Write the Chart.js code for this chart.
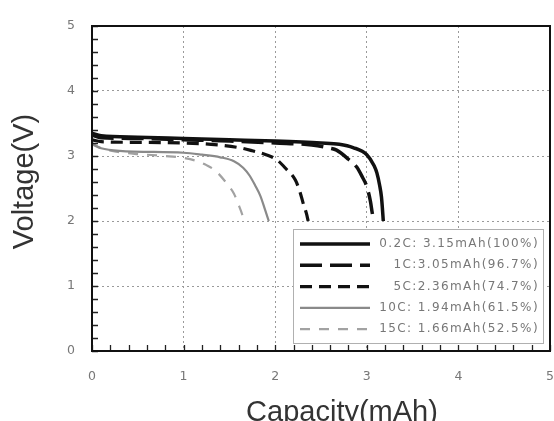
<!DOCTYPE html>
<html>
<head>
<meta charset="utf-8">
<script src="https://cdn.jsdelivr.net/npm/chart.js@4.4.1/dist/chart.umd.min.js"></script>
<style>
html,body{margin:0;padding:0;background:#fff;}
#wrap{width:554px;height:421px;position:relative;}
</style>
</head>
<body>
<div id="wrap"><canvas id="c" width="554" height="421"></canvas></div>
<script>
// ---- data ----
const seriesLabels = ['0.2C: 3.15mAh(100%)', '1C:3.05mAh(96.7%)', '5C:2.36mAh(74.7%)', '10C: 1.94mAh(61.5%)', '15C: 1.66mAh(52.5%)'];
const xTitle = 'Capacity(mAh)';
const yTitle = 'Voltage(V)';

const cap02C  = [0, 0.1, 0.5, 1.0, 1.5, 2.0, 2.5, 2.7, 2.85, 3.0, 3.08, 3.11, 3.14, 3.16, 3.17, 3.18];
const volt02C = [3.35, 3.31, 3.29, 3.27, 3.25, 3.23, 3.20, 3.18, 3.13, 3.02, 2.85, 2.74, 2.55, 2.37, 2.2, 2.0];

const cap1C  = [0, 0.1, 0.5, 1.0, 1.5, 2.0, 2.4, 2.6, 2.67, 2.8, 2.89, 2.95, 3.0, 3.04, 3.06, 3.08];
const volt1C = [3.32, 3.28, 3.27, 3.25, 3.23, 3.20, 3.17, 3.12, 3.09, 2.95, 2.83, 2.68, 2.53, 2.30, 2.12, 2.0];

const cap5C  = [0, 0.1, 0.5, 1.0, 1.3, 1.6, 1.75, 1.9, 2.02, 2.12, 2.22, 2.27, 2.31, 2.34, 2.36];
const volt5C = [3.25, 3.22, 3.21, 3.20, 3.18, 3.13, 3.08, 3.02, 2.94, 2.80, 2.63, 2.45, 2.25, 2.12, 2.0];

const cap10C  = [0, 0.1, 0.3, 1.0, 1.2, 1.4, 1.55, 1.65, 1.72, 1.78, 1.84, 1.89, 1.93];
const volt10C = [3.18, 3.12, 3.08, 3.05, 3.02, 2.98, 2.92, 2.82, 2.70, 2.55, 2.38, 2.17, 2.0];

const cap15C  = [0, 0.1, 0.3, 0.5, 0.8, 1.0, 1.15, 1.25, 1.35, 1.47, 1.55, 1.6, 1.64, 1.66];
const volt15C = [3.20, 3.12, 3.06, 3.03, 3.00, 2.97, 2.92, 2.86, 2.77, 2.58, 2.42, 2.25, 2.10, 2.0];

const xTicks = [0, 1, 2, 3, 4, 5];
const yTicks = [0, 1, 2, 3, 4, 5];

const pts = (xs, ys) => xs.map((x, i) => ({x: x, y: ys[i]}));

const styles = [
  {color: '#111', width: 3.5, dash: []},
  {color: '#111', width: 3.5, dash: [22, 8]},
  {color: '#111', width: 3.2, dash: [12, 7]},
  {color: '#8a8a8a', width: 2.2, dash: []},
  {color: '#a2a2a2', width: 2.2, dash: [10, 9]}
];
const seriesData = [pts(cap02C, volt02C), pts(cap1C, volt1C), pts(cap5C, volt5C), pts(cap10C, volt10C), pts(cap15C, volt15C)];

// draw order: grey first so black on top
const order = [3, 4, 2, 1, 0];
const datasets = seriesData.map((d, i) => ({
  label: seriesLabels[i],
  data: d,
  borderColor: styles[i].color,
  borderWidth: styles[i].width,
  borderDash: styles[i].dash,
  pointRadius: 0,
  fill: false,
  tension: 0.3,
  cubicInterpolationMode: 'monotone',
  order: order.indexOf(i)
}));

const frameAndTicks = {
  id: 'frameAndTicks',
  afterDatasetsDraw(chart) {
    const ctx = chart.ctx, a = chart.chartArea;
    const xs = chart.scales.x, ys = chart.scales.y;
    ctx.save();
    // inward minor ticks
    ctx.strokeStyle = '#222';
    ctx.lineWidth = 1.3;
    ctx.beginPath();
    for (let v = 0; v <= 25; v++) {
      const val = v / 5;
      const px = Math.round(xs.getPixelForValue(val)) + 0.5;
      ctx.moveTo(px, a.bottom); ctx.lineTo(px, a.bottom - 6);
      const py = Math.round(ys.getPixelForValue(val)) + 0.5;
      ctx.moveTo(a.left, py); ctx.lineTo(a.left + 6, py);
    }
    ctx.stroke();
    // legend box
    const bx = 293, by = 229, bw = 250, bh = 114;
    ctx.fillStyle = '#fff';
    ctx.fillRect(bx, by, bw, bh);
    ctx.strokeStyle = '#b0b0b0';
    ctx.lineWidth = 1;
    ctx.strokeRect(bx + 0.5, by + 0.5, bw, bh);
    ctx.font = '12px "DejaVu Sans"';
    ctx.textAlign = 'right';
    ctx.textBaseline = 'middle';
    chart.data.datasets.forEach((ds, i) => {
      const y = 244 + i * 21.3;
      ctx.beginPath();
      ctx.strokeStyle = ds.borderColor;
      ctx.lineWidth = ds.borderWidth;
      ctx.setLineDash(ds.borderDash);
      ctx.moveTo(300, y); ctx.lineTo(370, y);
      ctx.stroke();
      ctx.setLineDash([]);
      ctx.fillStyle = '#777';
      try { ctx.letterSpacing = '1.4px'; } catch (e) {}
      ctx.fillText(ds.label, 539, y);
      try { ctx.letterSpacing = '0px'; } catch (e) {}
    });
    // frame
    ctx.strokeStyle = '#111';
    ctx.lineWidth = 2;
    ctx.strokeRect(a.left, a.top, a.right - a.left, a.bottom - a.top);
    // axis titles
    ctx.fillStyle = '#333';
    ctx.font = '29px "Liberation Sans"';
    ctx.textAlign = 'center';
    ctx.textBaseline = 'middle';
    ctx.fillText(xTitle, (a.left + a.right) / 2 + 21, a.bottom + 62);
    ctx.translate(25, (a.top + a.bottom) / 2 - 7);
    ctx.rotate(-Math.PI / 2);
    ctx.fillText(yTitle, 0, 0);
    ctx.restore();
  }
};

new Chart(document.getElementById('c'), {
  type: 'line',
  data: {datasets: datasets},
  options: {
    responsive: false,
    animation: false,
    layout: {padding: {top: 26, right: 4, left: 0, bottom: 0}},
    plugins: {legend: {display: false}, tooltip: {enabled: false}},
    scales: {
      x: {
        type: 'linear', min: 0, max: 5,
        afterFit: s => { s.height = 70; s.paddingLeft = 0; s.paddingRight = 0; },
        afterBuildTicks: s => { s.ticks = xTicks.map(v => ({value: v})); },
        ticks: {color: '#777', font: {family: '"DejaVu Sans"', size: 12.5}, padding: 18, maxRotation: 0,
                callback: v => String(v)},
        grid: {color: '#9a9a9a', lineWidth: 1, drawTicks: false, tickLength: 0},
        border: {display: false, dash: [2, 3]},
        title: {display: false}
      },
      y: {
        type: 'linear', min: 0, max: 5,
        afterFit: s => { s.width = 92; s.paddingTop = 0; s.paddingBottom = 0; },
        afterBuildTicks: s => { s.ticks = yTicks.map(v => ({value: v})); },
        ticks: {color: '#777', font: {family: '"DejaVu Sans"', size: 12.5}, padding: 17,
                callback: v => String(v)},
        grid: {color: '#9a9a9a', lineWidth: 1, drawTicks: false, tickLength: 0},
        border: {display: false, dash: [2, 3]},
        title: {display: false}
      }
    }
  },
  plugins: [frameAndTicks]
});
</script>
</body>
</html>
